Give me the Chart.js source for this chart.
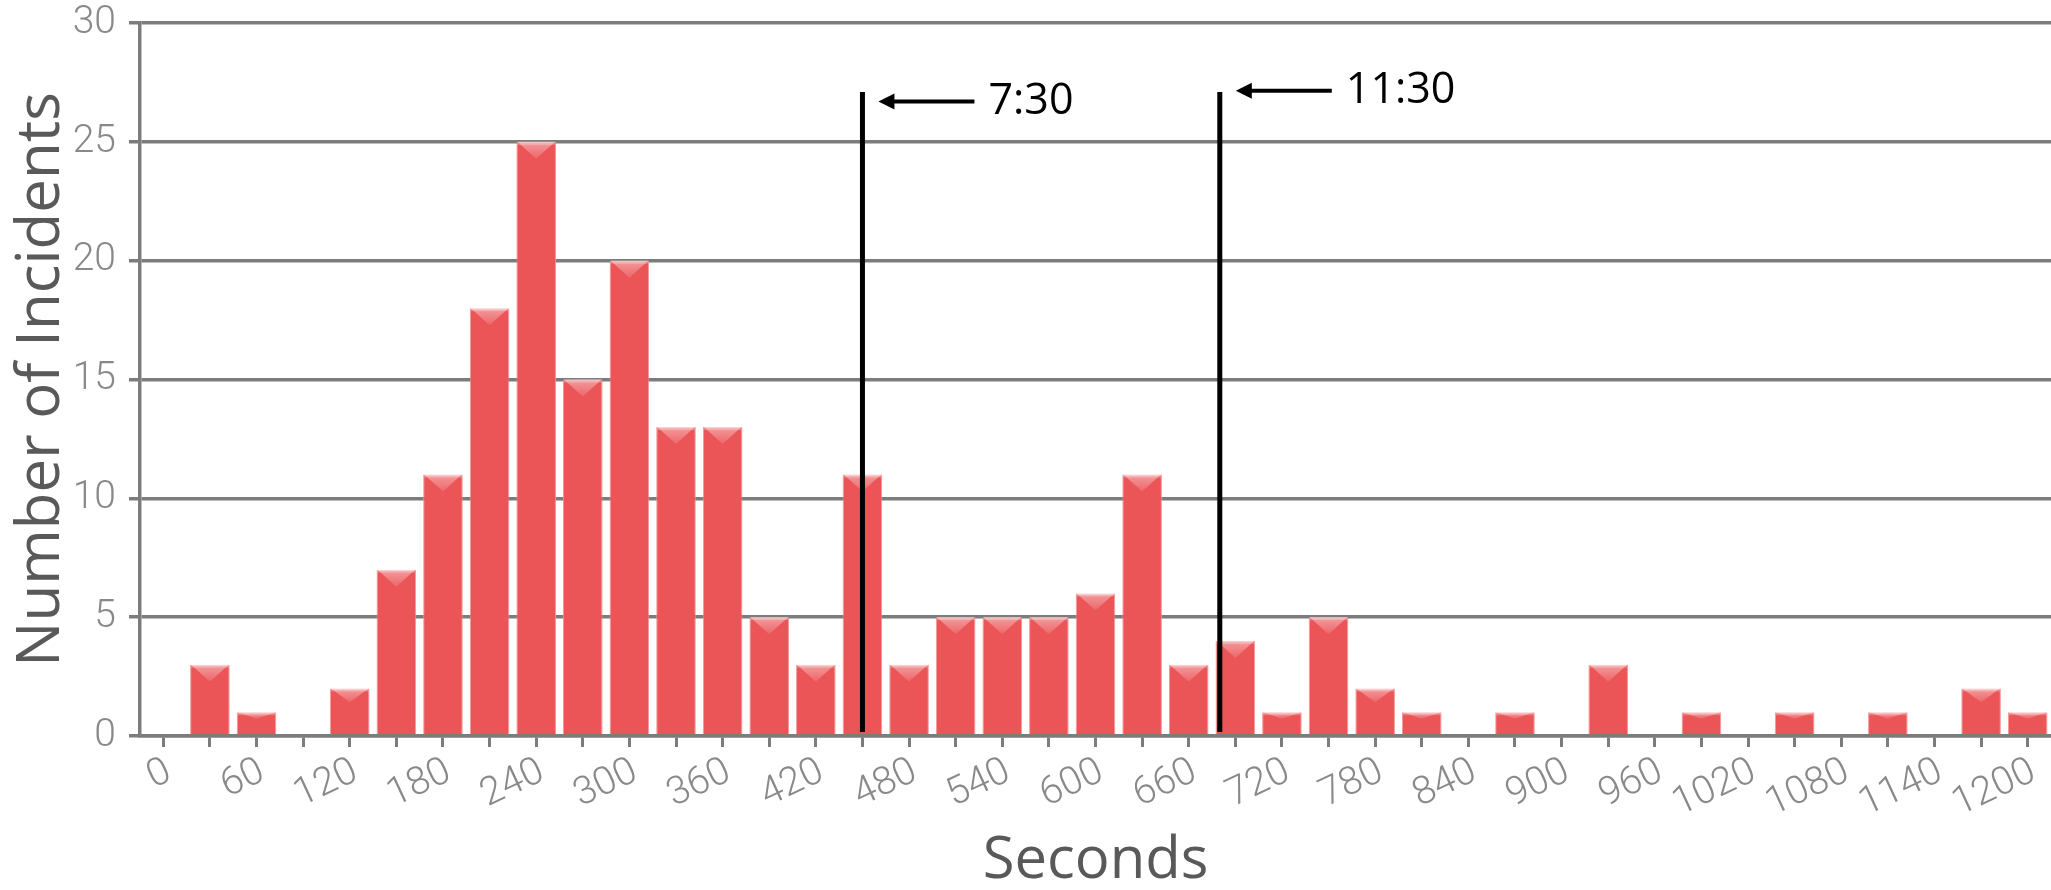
<!DOCTYPE html>
<html>
<head>
<meta charset="utf-8">
<script src="https://cdn.jsdelivr.net/npm/chart.js@4"></script>
<style>
  html, body { margin: 0; padding: 0; background: #fff; }
  #wrap { width: 2051px; height: 890px; position: relative; }
</style>
</head>
<body>
<div id="wrap"><canvas id="myChart"></canvas></div>
<script>
// bins of 30 seconds
const segundos = [0, 30, 60, 90, 120, 150, 180, 210, 240, 270, 300, 330, 360, 390, 420,
  450, 480, 510, 540, 570, 600, 630, 660, 690, 720, 750, 780, 810, 840, 870, 900,
  930, 960, 990, 1020, 1050, 1080, 1110, 1140, 1170, 1200];
const incidentes = [0, 3, 1, 0, 2, 7, 11, 18, 25, 15, 20, 13, 13, 5, 3,
  11, 3, 5, 5, 5, 6, 11, 3, 4, 1, 5, 2, 1, 0, 1, 0,
  3, 0, 1, 0, 1, 0, 1, 0, 2, 1];
const etiquetasX = [0, 60, 120, 180, 240, 300, 360, 420, 480, 540, 600, 660, 720, 780,
  840, 900, 960, 1020, 1080, 1140, 1200];

// marker lines (seconds) + their text
const marcas = [450, 680];
const marcasTexto = ["7:30", "11:30"];
const marcasFlecha = [26.7, 27.15]; // arrow height in y units
const marcaTope = 27.1;

const ctx = document.querySelector("#myChart");
const gris = "#7c7c7c";

// glossy top on each bar
const brillo = {
  id: "brillo",
  afterDatasetsDraw(chart) {
    const c = chart.ctx;
    chart.getDatasetMeta(0).data.forEach((bar) => {
      const h = bar.base - bar.y;
      if (h <= 1) return;
      const w = bar.width;
      const d = Math.min(17, h * 0.3);
      const g = c.createLinearGradient(0, bar.y, 0, bar.y + d);
      g.addColorStop(0, "rgba(255,255,255,0.42)");
      g.addColorStop(1, "rgba(255,255,255,0.1)");
      c.save();
      c.fillStyle = g;
      c.beginPath();
      c.moveTo(bar.x - w / 2 + 1, bar.y);
      c.lineTo(bar.x + w / 2 - 1, bar.y);
      c.lineTo(bar.x, bar.y + d);
      c.closePath();
      c.fill();
      c.fillStyle = "rgba(255,255,255,0.25)";
      c.fillRect(bar.x - w / 2 + 1, bar.y, w - 2, Math.min(3, h));
      c.restore();
    });
  },
};

// vertical lines with arrow + label
const lineas = {
  id: "lineas",
  afterDraw(chart) {
    const c = chart.ctx;
    const x = chart.scales.x;
    const y = chart.scales.y;
    c.save();
    marcas.forEach((seg, i) => {
      const px = x.getPixelForValue(seg / 30);
      c.strokeStyle = "#000";
      c.lineWidth = 5;
      c.beginPath();
      c.moveTo(px, y.getPixelForValue(marcaTope));
      c.lineTo(px, chart.chartArea.bottom - 4);
      c.stroke();

      const ay = y.getPixelForValue(marcasFlecha[i]);
      const punta = px + 16;
      c.lineWidth = 4;
      c.beginPath();
      c.moveTo(punta + 12, ay);
      c.lineTo(punta + 96, ay);
      c.stroke();
      c.fillStyle = "#000";
      c.beginPath();
      c.moveTo(punta, ay);
      c.lineTo(punta + 16, ay - 8);
      c.lineTo(punta + 16, ay + 8);
      c.closePath();
      c.fill();

      c.font = "43px 'Open Sans'";
      c.textAlign = "left";
      c.textBaseline = "middle";
      c.fillText(marcasTexto[i], punta + 110, ay);
    });
    c.restore();
  },
};

new Chart(ctx, {
  type: "bar",
  data: {
    labels: segundos,
    datasets: [
      {
        data: incidentes,
        backgroundColor: "#EB5558",
        borderColor: "rgba(245,140,142,0.9)",
        borderWidth: 1,
        barPercentage: 0.85,
        categoryPercentage: 1,
      },
    ],
  },
  options: {
    responsive: true,
    maintainAspectRatio: false,
    animation: false,
    layout: { padding: { top: 23, right: 0, left: 0, bottom: 0 } },
    plugins: { legend: { display: false }, tooltip: { enabled: false } },
    scales: {
      x: {
        afterFit: (s) => { s.height = 154; },
        border: { color: gris, width: 3.5 },
        grid: {
          offset: false,
          drawOnChartArea: false,
          drawTicks: true,
          tickLength: 11,
          tickWidth: 3,
          tickColor: gris,
        },
        ticks: {
          autoSkip: false,
          minRotation: 25,
          maxRotation: 25,
          padding: 2,
          labelOffset: 6,
          color: "#898989",
          font: { family: "Roboto", size: 39, weight: "300" },
          callback: function (val) {
            const s = segundos[val];
            return etiquetasX.includes(s) ? String(s) : "";
          },
        },
        title: {
          display: true,
          text: "Seconds",
          color: "#595959",
          font: { family: "Open Sans", size: 58 },
          padding: { top: 0, bottom: -6 },
        },
      },
      y: {
        min: 0,
        max: 30,
        afterFit: (s) => {
          s.width = 140;
          s.paddingTop = 0;
          s.paddingBottom = 0;
        },
        border: { color: gris, width: 3.5 },
        grid: {
          color: gris,
          lineWidth: 3.5,
          tickLength: 11,
        },
        ticks: {
          stepSize: 5,
          padding: 13,
          color: "#898989",
          font: { family: "Roboto", size: 39, weight: "300" },
        },
        title: {
          display: true,
          text: "Number of Incidents",
          color: "#595959",
          font: { family: "Open Sans", size: 60 },
          padding: { top: 6, bottom: 0 },
        },
      },
    },
  },
  plugins: [brillo, lineas],
});
</script>
</body>
</html>
